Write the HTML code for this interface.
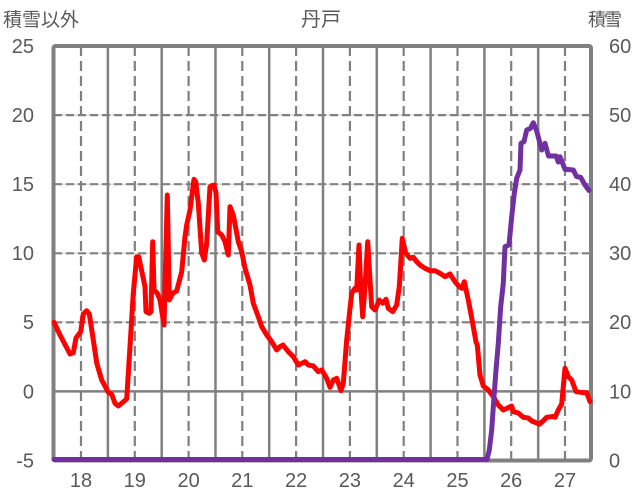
<!DOCTYPE html>
<html>
<head>
<meta charset="utf-8">
<style>
html,body{margin:0;padding:0;background:#fff;}
svg{display:block;}
.t{font-family:"Liberation Sans",sans-serif;font-size:20px;fill:#595959;}
.c{font-family:"Liberation Sans","Noto Sans CJK JP",sans-serif;fill:#595959;}
</style>
</head>
<body>
<svg width="636" height="501" viewBox="0 0 636 501" xmlns="http://www.w3.org/2000/svg">
<rect width="636" height="501" fill="#fff"/>
<g stroke="#d9d9d9" stroke-width="1.5">
<line x1="54" y1="115.1" x2="591" y2="115.1"/>
<line x1="54" y1="184.2" x2="591" y2="184.2"/>
<line x1="54" y1="253.3" x2="591" y2="253.3"/>
<line x1="54" y1="322.3" x2="591" y2="322.3"/>
</g>
<g stroke="#808080" stroke-width="2.2" stroke-dasharray="8,4">
<line x1="54" y1="115.1" x2="591" y2="115.1"/>
<line x1="54" y1="184.2" x2="591" y2="184.2"/>
<line x1="54" y1="253.3" x2="591" y2="253.3"/>
<line x1="54" y1="322.3" x2="591" y2="322.3"/>
</g>
<line x1="54" y1="391.4" x2="591" y2="391.4" stroke="#808080" stroke-width="2.5"/>
<g stroke="#808080" stroke-width="2.2" stroke-dasharray="10,5">
<line x1="81" y1="46" x2="81" y2="460"/>
<line x1="134.8" y1="46" x2="134.8" y2="460"/>
<line x1="188.6" y1="46" x2="188.6" y2="460"/>
<line x1="242.3" y1="46" x2="242.3" y2="460"/>
<line x1="296.1" y1="46" x2="296.1" y2="460"/>
<line x1="349.9" y1="46" x2="349.9" y2="460"/>
<line x1="403.7" y1="46" x2="403.7" y2="460"/>
<line x1="457.5" y1="46" x2="457.5" y2="460"/>
<line x1="511.2" y1="46" x2="511.2" y2="460"/>
<line x1="565" y1="46" x2="565" y2="460"/>
</g>
<g stroke="#808080" stroke-width="2.5">
<line x1="107.9" y1="46" x2="107.9" y2="460"/>
<line x1="161.7" y1="46" x2="161.7" y2="460"/>
<line x1="215.5" y1="46" x2="215.5" y2="460"/>
<line x1="269.2" y1="46" x2="269.2" y2="460"/>
<line x1="323" y1="46" x2="323" y2="460"/>
<line x1="376.8" y1="46" x2="376.8" y2="460"/>
<line x1="430.6" y1="46" x2="430.6" y2="460"/>
<line x1="484.4" y1="46" x2="484.4" y2="460"/>
<line x1="538.2" y1="46" x2="538.2" y2="460"/>
</g>
<rect x="53.5" y="46" width="537.5" height="414.5" rx="2" fill="none" stroke="#808080" stroke-width="4"/>
<polyline fill="none" stroke="#ff0000" stroke-width="5" stroke-linejoin="round" stroke-linecap="round" points="
54,322.3 60,335 70,354 73.3,352.7 76,338 80.7,331.7 83.3,314 86.7,310.7 89.3,314 93.3,340 96.7,363 101.7,380 108.3,392.3 111.7,394.3 115,403.3 118.3,406 126.7,399 130,346.7 133.3,293 136.7,256.7 138.7,256.7 145,286.7 146,311.7 149.3,313.3 151,311.7 152.7,241.7 154,290 157.3,293.3 160,300 164,325 167.3,195 169.3,300 172.7,293.3 176.7,291 181.7,271.7 185,236.7 186.7,225 190,210 194,179.3 195.7,181.7 198.3,203 201.7,253 204.3,260 206.7,243 210,186.7 214,185 216,193 217.7,231.7 221.7,235 225,241.7 228.3,255 230,206.7 233.3,215 238.3,241.7 241.7,251.7 245,268.3 250,285 253.3,303.3 258.3,316.7 261.7,326.7 266.7,335 271.7,341.7 276.7,350 280,346.7 283,345 288.3,351.7 293.3,356.7 298.3,365 305,361.7 308.3,365 313.3,366 318.3,371.7 321.7,370 326.7,378.3 330,387.3 333.3,380 336.7,378.3 341,390.7 343.3,383.3 346.7,340 349.3,315 351.7,293.3 355,288.3 356.7,290 359,245 360.7,286.7 362.7,316.7 365,286.7 367.7,241.7 370,280 371.7,306.7 375,310 379.3,300 382.7,303.3 386,299.3 388.3,308.3 392.7,311.7 396.7,305 399.3,286.7 402.3,238.3 405.7,253.3 410,258.3 413.3,257.3 416.7,261.7 420,265 425,268.3 430,270.7 435,270.7 440,273.3 445,276.7 450,274 455,281.7 459.3,286.7 462,288.3 464.3,281.7 468.3,300 472.7,323.3 476,342 477.3,345 480,375 483.3,386 488.3,390 493.3,396.7 498.3,405 503.3,410 508.3,407.7 511.7,406 513.3,411.7 518.3,413 523.3,417.3 528.3,418 531.7,421 536.7,423 539.3,424.3 543,421 546.7,417.3 552.7,416.5 555,417.3 558.3,410 561.7,404 565,368.3 568.3,376.7 571.7,380 576,391.7 583.3,392.7 586.7,392.7 590,401.7"/>
<polyline fill="none" stroke="#7030a0" stroke-width="5" stroke-linejoin="round" stroke-linecap="round" points="
54,459.5 487,459.5 489.3,450 491.7,430 494,397 496,370 498.3,343.3 500.7,306.7 503.3,283.3 505,246.7 509,245 511.7,216.7 514.3,193.3 516.7,178.3 520,170 521,143.3 524,141.7 526.7,130 530.5,128.3 533.3,122.7 536.7,131 541.7,150 545,143.3 548.5,156 556,156 558.3,162 560,156.7 565,169.3 573.3,170 576.5,176.5 580.7,177.3 585,185 589,190.5"/>
<g class="t" text-anchor="end">
<text x="34" y="53">25</text>
<text x="34" y="122">20</text>
<text x="34" y="191">15</text>
<text x="34" y="260">10</text>
<text x="34" y="329">5</text>
<text x="34" y="398.5">0</text>
<text x="34" y="467.5">-5</text>
</g>
<g class="t" text-anchor="start">
<text x="609" y="53">60</text>
<text x="609" y="122">50</text>
<text x="609" y="191">40</text>
<text x="609" y="260">30</text>
<text x="609" y="329">20</text>
<text x="609" y="398.5">10</text>
<text x="609" y="467.5">0</text>
</g>
<g class="t" text-anchor="middle">
<text x="81" y="487">18</text>
<text x="134.8" y="487">19</text>
<text x="188.6" y="487">20</text>
<text x="242.3" y="487">21</text>
<text x="296.1" y="487">22</text>
<text x="349.9" y="487">23</text>
<text x="403.7" y="487">24</text>
<text x="457.5" y="487">25</text>
<text x="511.2" y="487">26</text>
<text x="565" y="487">27</text>
</g>
<text class="c" x="3" y="26" font-size="19">積雪以外</text>
<text class="c" x="321" y="26" font-size="20" text-anchor="middle">丹戸</text>
<text class="c" x="588" y="26" font-size="18" letter-spacing="-2">積雪</text>
</svg>
</body>
</html>
